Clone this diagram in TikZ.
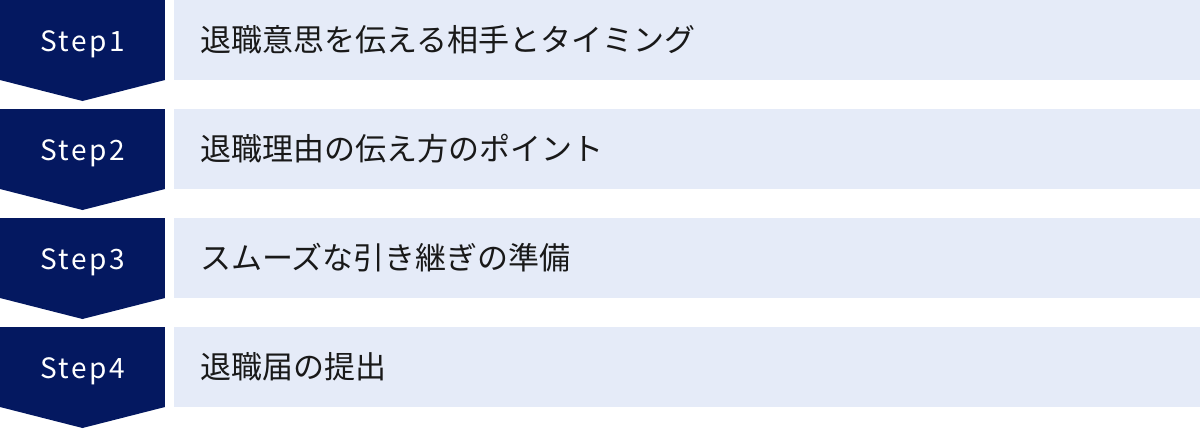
\documentclass[tikz,border=0pt]{standalone}
\usepackage{fontspec}
\setmainfont{Noto Sans CJK JP}
\newfontfamily\stepfont[LetterSpace=9]{Noto Sans CJK JP}
\usetikzlibrary{positioning}
\definecolor{stepnavy}{RGB}{4,24,96}
\definecolor{rowblue}{RGB}{229,235,248}
\tikzstyle{stepbox}=[fill=stepnavy, text=white, minimum width=165pt, minimum height=80pt, inner sep=0pt, outer sep=0pt, text height=22pt, text depth=0pt, font=\stepfont\fontsize{28}{30}\selectfont]
\tikzstyle{rowbox}=[fill=rowblue, text=black!90, text width=974pt, inner xsep=26pt, inner ysep=0pt, minimum height=80pt, outer sep=0pt, align=left, font=\fontsize{31}{34}\selectfont]
\tikzstyle{tip}=[fill=stepnavy]

\begin{document}
\begin{tikzpicture}[x=1pt,y=1pt]
    \useasboundingbox (0,0) rectangle (1200,-429);
    \node (s1) [stepbox, anchor=north west] at (0,0) {Step1};
    \node (t1) [rowbox, right=9pt of s1]  {退職意思を伝える相手とタイミング};
    \node (s2) [stepbox, below=29pt of s1] {Step2};
    \node (t2) [rowbox, right=9pt of s2]  {退職理由の伝え方のポイント};
    \node (s3) [stepbox, below=29pt of s2] {Step3};
    \node (t3) [rowbox, right=9pt of s3]  {スムーズな引き継ぎの準備};
    \node (s4) [stepbox, below=29pt of s3] {Step4};
    \node (t4) [rowbox, right=9pt of s4]  {退職届の提出};
    \fill [tip] (s1.south west) -- (s1.south east) -- ([yshift=-21pt]s1.south) -- cycle;
    \fill [tip] (s2.south west) -- (s2.south east) -- ([yshift=-21pt]s2.south) -- cycle;
    \fill [tip] (s3.south west) -- (s3.south east) -- ([yshift=-21pt]s3.south) -- cycle;
    \fill [tip] (s4.south west) -- (s4.south east) -- ([yshift=-21pt]s4.south) -- cycle;
\end{tikzpicture}
\end{document}
